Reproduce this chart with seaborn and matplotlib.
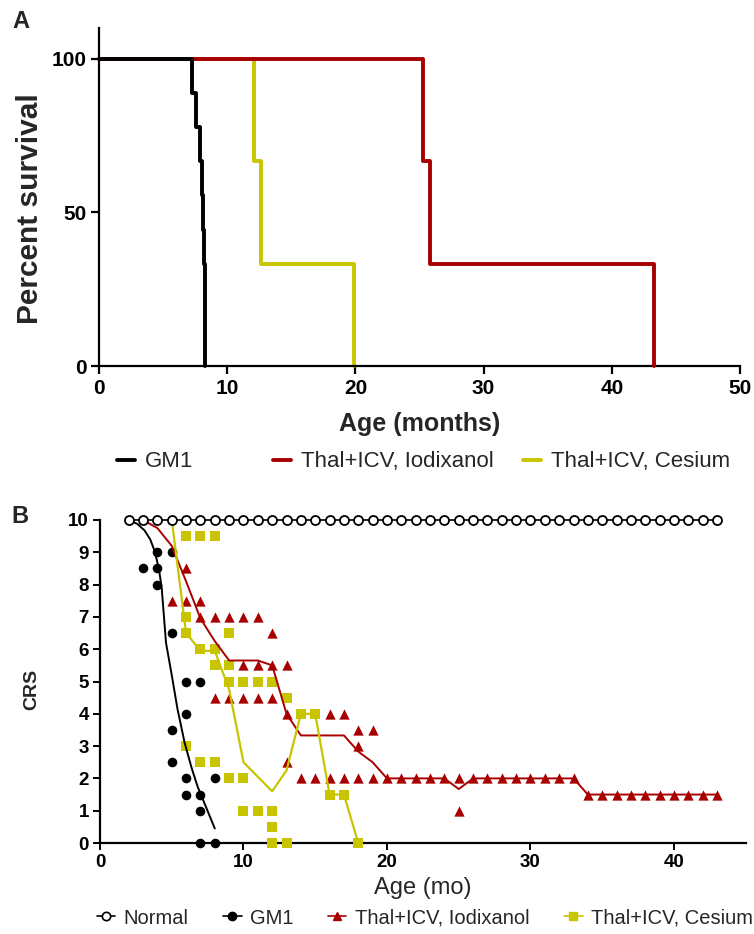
import numpy as np
import pandas as pd
import matplotlib
matplotlib.use("Agg")
import matplotlib.pyplot as plt
import seaborn as sns
from matplotlib.lines import Line2D

# ---------------- Panel A: Kaplan-Meier survival (step curves) ----------------
km_gm1_t = [0, 7.25, 7.6, 7.9, 8.0, 8.1, 8.2, 8.3]
km_gm1_s = [100, 88.9, 77.8, 66.7, 55.6, 44.4, 33.3, 0]
km_iod_t = [0, 25.3, 25.8, 43.3]
km_iod_s = [100, 66.7, 33.3, 0]
km_ces_t = [0, 12.1, 12.6, 19.9]
km_ces_s = [100, 66.7, 33.3, 0]

# ---------------- Panel B: clinical rating score ----------------
normal_x = [2, 3, 4, 5, 6, 7, 8, 9, 10, 11, 12, 13, 14, 15, 16, 17, 18, 19, 20, 21, 22,
            23, 24, 25, 26, 27, 28, 29, 30, 31, 32, 33, 34, 35, 36, 37, 38, 39, 40, 41, 42, 43]
normal_y = [10, 10, 10, 10, 10, 10, 10, 10, 10, 10, 10, 10, 10, 10, 10, 10, 10, 10, 10, 10, 10,
            10, 10, 10, 10, 10, 10, 10, 10, 10, 10, 10, 10, 10, 10, 10, 10, 10, 10, 10, 10, 10]

gm1_x = [3, 4, 4, 4, 5, 5, 5, 5, 6, 6, 6, 6, 7, 7, 7, 7, 8, 8]
gm1_y = [8.5, 9, 8.5, 8, 9, 6.5, 3.5, 2.5, 5, 4, 2, 1.5, 5, 1.5, 1, 0, 2, 0]
gm1_line_x = [2.0, 2.6, 3.1, 3.5, 3.8, 4.1, 4.3, 4.6, 5.0, 5.4, 5.9, 6.4, 6.8, 7.4, 8.0]
gm1_line_y = [10.0, 9.88, 9.68, 9.4, 9.05, 8.5, 7.9, 6.2, 5.2, 4.15, 3.1, 2.3, 1.75, 1.1, 0.45]

iod_x = [5, 6, 6, 7, 7, 8, 9, 10, 11, 12, 10, 11, 12, 13, 8, 9, 10, 11, 12, 13, 13, 16, 17, 18, 19, 18,
         14, 15, 16, 17, 18, 19, 20, 21, 22, 23, 24, 25, 26, 27, 28, 29, 30, 31, 32, 33, 25,
         34, 35, 36, 37, 38, 39, 40, 41, 42, 43]
iod_y = [7.5, 8.5, 7.5, 7.5, 7, 7, 7, 7, 7, 6.5, 5.5, 5.5, 5.5, 5.5, 4.5, 4.5, 4.5, 4.5, 4.5, 4, 2.5, 4, 4, 3.5, 3.5, 3,
         2, 2, 2, 2, 2, 2, 2, 2, 2, 2, 2, 2, 2, 2, 2, 2, 2, 2, 2, 2, 1,
         1.5, 1.5, 1.5, 1.5, 1.5, 1.5, 1.5, 1.5, 1.5, 1.5]
iod_line_x = [3, 4, 5, 6, 7, 8, 9, 10, 11, 12, 13, 14, 15, 16, 17, 18, 19, 20, 21, 22, 23, 24, 25,
              26, 27, 28, 29, 30, 31, 32, 33, 34, 35, 36, 37, 38, 39, 40, 41, 42, 43]
iod_line_y = [10, 9.75, 9.2, 8.1, 6.95, 6.25, 5.65, 5.65, 5.65, 5.5, 4.0, 3.33, 3.33, 3.33, 3.33, 2.83, 2.5,
              2, 2, 2, 2, 2, 1.67, 2, 2, 2, 2, 2, 2, 2, 2, 1.5, 1.5, 1.5, 1.5, 1.5, 1.5, 1.5, 1.5, 1.5, 1.5]

ces_x = [6, 7, 8, 6, 6, 7, 8, 8, 9, 9, 9, 10, 11, 12, 13, 14, 15, 6, 7, 8, 9, 10, 10, 11, 12, 12, 12, 13, 16, 17, 18]
ces_y = [9.5, 9.5, 9.5, 7, 6.5, 6, 6, 5.5, 5.5, 6.5, 5, 5, 5, 5, 4.5, 4, 4, 3, 2.5, 2.5, 2, 2, 1, 1, 1, 0.5, 0, 0, 1.5, 1.5, 0]
ces_line_x = [5, 6, 7, 8, 9, 10, 11, 12, 13, 14, 15, 16, 17, 18]
ces_line_y = [10, 6.5, 5.95, 5.95, 4.75, 2.5, 2.05, 1.6, 2.25, 4, 4, 1.5, 1.5, 0]

legend_a = ["GM1", "Thal+ICV, Iodixanol", "Thal+ICV, Cesium"]
legend_b = ["Normal", "GM1", "Thal+ICV, Iodixanol", "Thal+ICV, Cesium"]

BLACK = "#000000"
RED = "#A80000"
YEL = "#C8C500"

sns.set_theme(style="ticks")
plt.rcParams["font.family"] = ["Liberation Sans", "DejaVu Sans"]

W, H = 754, 934
fig = plt.figure(figsize=(W / 100, H / 100), dpi=100)

def fx(px):
    return px / W

def fy(py):
    return 1 - py / H

# ---------------- Panel A ----------------
axA = fig.add_axes([fx(99), fy(366), fx(740) - fx(99), fy(28) - fy(366)])
for t, s, c, z in [(km_ces_t, km_ces_s, YEL, 2), (km_iod_t, km_iod_s, RED, 3), (km_gm1_t, km_gm1_s, BLACK, 4)]:
    sns.lineplot(x=t, y=s, ax=axA, color=c, lw=2.8, drawstyle="steps-post",
                 estimator=None, sort=False, errorbar=None, zorder=z, clip_on=False)
axA.set_xlim(0, 50)
axA.set_ylim(0, 110)
axA.set_xticks([0, 10, 20, 30, 40, 50])
axA.set_yticks([0, 50, 100])
sns.despine(ax=axA)
for sp in ["left", "bottom"]:
    axA.spines[sp].set_linewidth(1.6)
    axA.spines[sp].set_color("black")
axA.tick_params(axis="both", length=6, width=1.6, labelsize=15, colors="black", pad=3)
for lab in axA.get_xticklabels() + axA.get_yticklabels():
    lab.set_fontweight("bold")
axA.set_xlabel("Age (months)", fontsize=18, fontweight="bold")
axA.set_ylabel("Percent survival", fontsize=21.5, fontweight="bold")
axA.xaxis.set_label_coords(0.5, -0.135)
axA.yaxis.set_label_coords(-0.086, 0.465)

# legend A: three entries placed individually
pos_a = [117, 273, 523]
for name, c, px in zip(legend_a, [BLACK, RED, YEL], pos_a):
    h = Line2D([], [], color=c, lw=2.8)
    lg = fig.legend([h], [name], loc="center left", bbox_to_anchor=(fx(px), fy(462)),
                    frameon=False, fontsize=16, handlelength=0.8, handletextpad=0.45,
                    borderpad=0, borderaxespad=0)

fig.text(fx(12), fy(10), "A", fontsize=17, fontweight="bold", va="top", ha="left")

# ---------------- Panel B ----------------
axB = fig.add_axes([fx(100), fy(843), fx(745.7) - fx(100), fy(520) - fy(843)])

sns.scatterplot(x=gm1_x, y=gm1_y, ax=axB, marker="o", color=BLACK, s=48, linewidth=0, clip_on=False, zorder=3)
sns.scatterplot(x=iod_x, y=iod_y, ax=axB, marker="^", color=RED, s=55, linewidth=0, clip_on=False, zorder=3)
sns.scatterplot(x=ces_x, y=ces_y, ax=axB, marker="s", color=YEL, s=48, linewidth=0, clip_on=False, zorder=3)

sns.lineplot(x=gm1_line_x, y=gm1_line_y, ax=axB, color=BLACK, lw=1.4, estimator=None, sort=False,
             errorbar=None, zorder=4, clip_on=False)
sns.lineplot(x=iod_line_x, y=iod_line_y, ax=axB, color=RED, lw=1.4, estimator=None, sort=False,
             errorbar=None, zorder=4, clip_on=False)
sns.lineplot(x=ces_line_x, y=ces_line_y, ax=axB, color=YEL, lw=1.6, estimator=None, sort=False,
             errorbar=None, zorder=4, clip_on=False)
sns.lineplot(x=normal_x, y=normal_y, ax=axB, color=BLACK, lw=1.2, marker="o", markersize=6.5,
             markerfacecolor="white", markeredgecolor="black", markeredgewidth=1.3,
             estimator=None, sort=False, errorbar=None, zorder=6, clip_on=False)

axB.set_xlim(0, 45)
axB.set_ylim(0, 10)
axB.set_xticks([0, 10, 20, 30, 40])
axB.set_yticks(list(range(0, 11)))
sns.despine(ax=axB)
for sp in ["left", "bottom"]:
    axB.spines[sp].set_linewidth(1.6)
    axB.spines[sp].set_color("black")
axB.tick_params(axis="both", length=5, width=1.4, labelsize=13.5, colors="black", pad=3)
for lab in axB.get_xticklabels() + axB.get_yticklabels():
    lab.set_fontweight("bold")
axB.set_xlabel("Age (mo)", fontsize=17)
axB.set_ylabel("CRS", fontsize=14, fontweight="bold")
axB.xaxis.set_label_coords(0.5, -0.105)
axB.yaxis.set_label_coords(-0.092, 0.474)

hb = [
    Line2D([], [], color=BLACK, lw=1.2, marker="o", ms=6, mfc="white", mec="black", mew=1.2),
    Line2D([], [], color=BLACK, lw=1.2, marker="o", ms=6),
    Line2D([], [], color=RED, lw=1.2, marker="^", ms=6),
    Line2D([], [], color=YEL, lw=1.2, marker="s", ms=6),
]
fig.legend(hb, legend_b, loc="center left", bbox_to_anchor=(fx(97), fy(918)), ncol=4,
           frameon=False, fontsize=14.5, handlelength=0.9, handletextpad=0.4,
           columnspacing=1.75, borderpad=0, borderaxespad=0)

fig.text(fx(11), fy(505), "B", fontsize=17, fontweight="bold", va="top", ha="left")

fig.savefig("out.png", dpi=100)
